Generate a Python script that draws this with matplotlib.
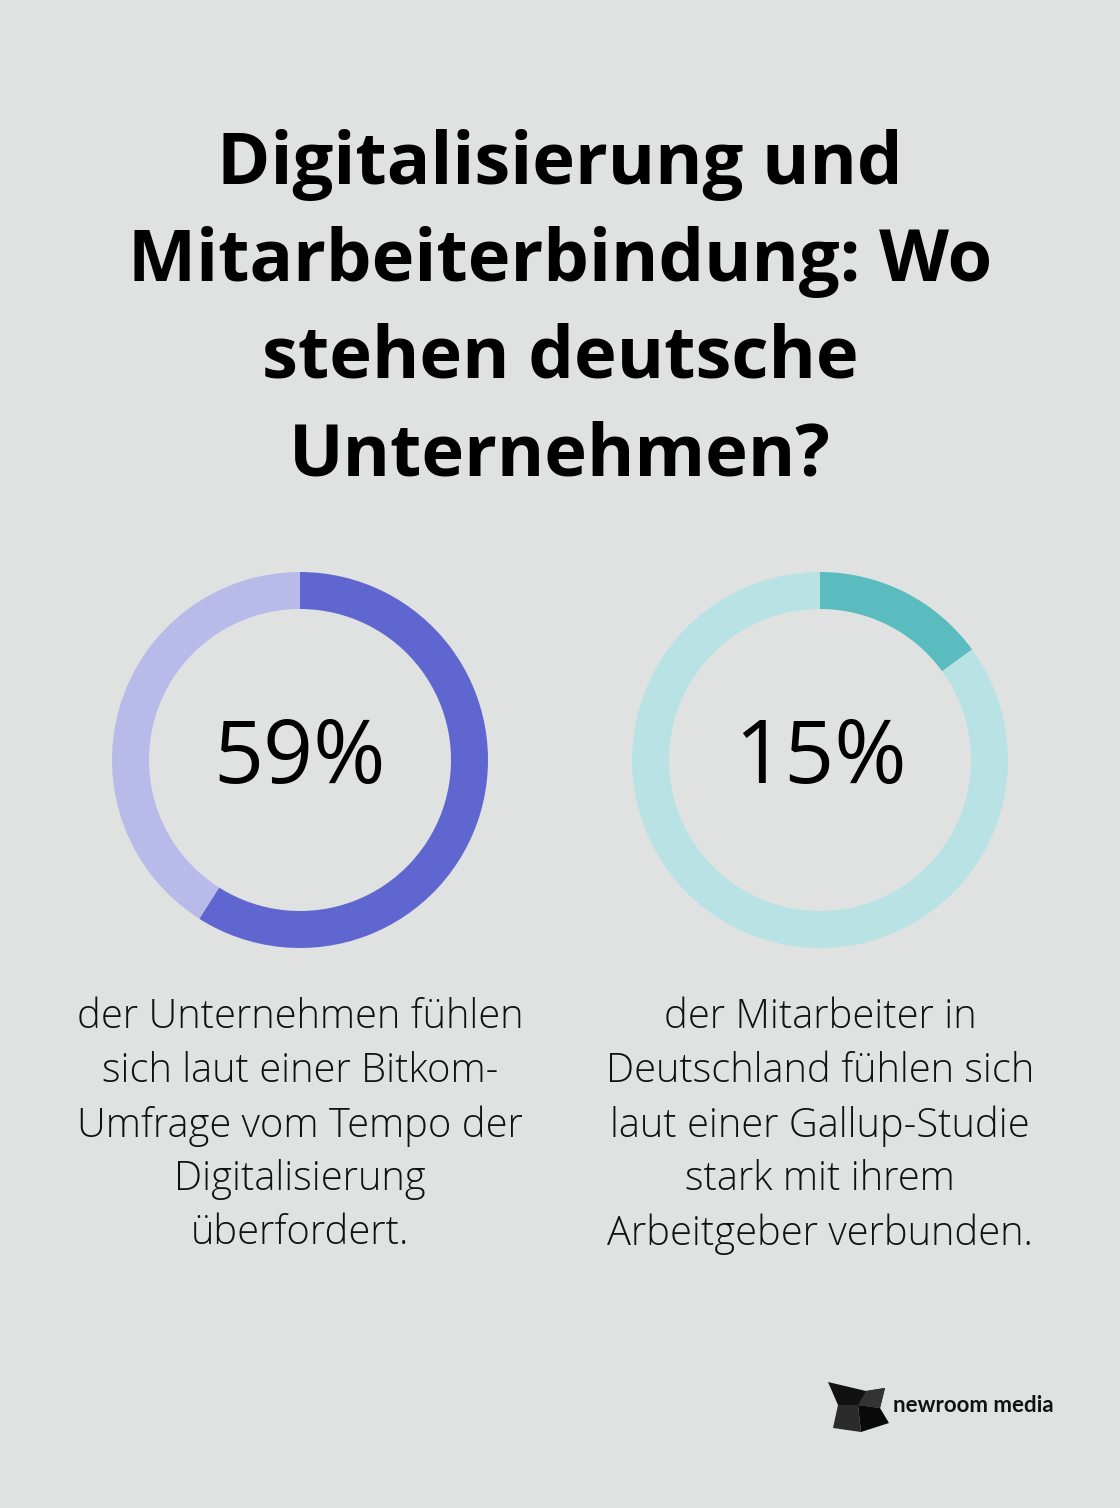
import matplotlib.pyplot as plt
from matplotlib.patches import Polygon

W, H = 1120, 1508
BG = "#e0e2e1"

title_lines = ["Digitalisierung und", "Mitarbeiterbindung: Wo", "stehen deutsche", "Unternehmen?"]
values = [59, 15]
labels = ["59%", "15%"]
dark_colors = ["#6066cf", "#5bbcbf"]
light_colors = ["#b8bbea", "#b8e2e4"]
descriptions = [
    ["der Unternehmen fühlen", "sich laut einer Bitkom-", "Umfrage vom Tempo der", "Digitalisierung", "überfordert."],
    ["der Mitarbeiter in", "Deutschland fühlen sich", "laut einer Gallup-Studie", "stark mit ihrem", "Arbeitgeber verbunden."],
]
centers_x = [300, 820]

fig = plt.figure(figsize=(W / 100, H / 100), dpi=100, facecolor=BG)

# background axes in pixel coords (y down)
bg = fig.add_axes([0, 0, 1, 1])
bg.set_xlim(0, W)
bg.set_ylim(H, 0)
bg.axis("off")

title_y = [165, 262, 359, 456]
for line, y in zip(title_lines, title_y):
    bg.text(560, y, line, ha="center", va="center", fontsize=52,
            fontweight="bold", family="Open Sans", color="#000000")

# donuts
R, ring = 188, 37
for cx, v, lab, dc, lc, desc in zip(centers_x, values, labels, dark_colors, light_colors, descriptions):
    cy = 760
    ax = fig.add_axes([(cx - R) / W, (H - cy - R) / H, 2 * R / W, 2 * R / H])
    ax.pie([v, 100 - v], colors=[dc, lc], startangle=90, counterclock=False,
           radius=1, wedgeprops=dict(width=ring / R, linewidth=0))
    ax.set_xlim(-1, 1)
    ax.set_ylim(-1, 1)
    ax.set_aspect("equal")
    ax.axis("off")
    bg.text(cx, cy, lab, ha="center", va="center", fontsize=63,
            fontweight="medium", family="Open Sans", color="#000000")
    for i, line in enumerate(desc):
        bg.text(cx, 1018 + i * 54, line, ha="center", va="center", fontsize=28.7,
                fontweight="light", family="Open Sans", color="#111111")

# logo
bg.add_patch(Polygon([(828, 1382), (866, 1391), (885, 1388), (880, 1408), (858, 1405), (838, 1405)],
                     closed=True, facecolor="#111111", edgecolor="none"))
bg.add_patch(Polygon([(838, 1405), (858, 1405), (861, 1432), (833, 1428)],
                     closed=True, facecolor="#2b2b2b", edgecolor="none"))
bg.add_patch(Polygon([(858, 1405), (880, 1408), (889, 1423), (861, 1432)],
                     closed=True, facecolor="#0a0a0a", edgecolor="none"))
bg.add_patch(Polygon([(866, 1391), (885, 1388), (880, 1408), (858, 1405)],
                     closed=True, facecolor="#333333", edgecolor="none"))
bg.text(893, 1406, "newroom media", ha="left", va="center", fontsize=16,
        fontweight="bold", family="Lato", color="#111111")

fig.savefig("out.png", dpi=100, facecolor=BG)
